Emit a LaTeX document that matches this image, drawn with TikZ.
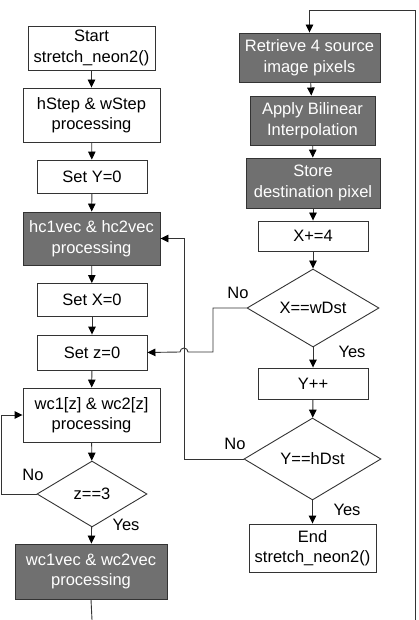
\documentclass[tikz,border=0pt]{standalone}
\usepackage{fontspec}
\setmainfont{Liberation Sans}
\usetikzlibrary{shapes.geometric,arrows.meta}
\begin{document}
\begin{tikzpicture}[x=1pt,y=-1pt,
  every node/.style={font=\fontsize{16.5}{20.5}\selectfont, align=center, inner sep=0pt},
  box/.style={draw=black!80, line width=0.9pt, fill=white, rectangle, minimum width=#1},
  gbox/.style={draw=black!80, line width=0.9pt, fill=black!56, text=white, rectangle, minimum width=#1},
  dec/.style={draw=black!80, line width=0.9pt, diamond, aspect=1.7},
  line/.style={draw=black!80, line width=0.9pt},
  arr/.style={line, -{Triangle[length=8pt,width=7.5pt,fill=black,color=black]}},
  lbl/.style={font=\fontsize{16.5}{20}\selectfont}]
\useasboundingbox (0,0) rectangle (418,620);
% left column
\node[box=127, minimum height=44] (start) at (91.5,48) {Start\\stretch\_neon2()};
\node[box=137, minimum height=54] (hstep) at (91.5,115) {hStep \& wStep\\processing};
\node[box=110, minimum height=33] (sety) at (92,176.5) {Set Y=0};
\node[gbox=137, minimum height=53] (hc) at (91.5,238.5) {hc1vec \& hc2vec\\processing};
\node[box=110, minimum height=33] (setx) at (92,300) {Set X=0};
\node[box=110, minimum height=35] (setz) at (92,352.5) {Set z=0};
\node[box=137, minimum height=54] (wc) at (91.5,415) {wc1[z] \& wc2[z]\\processing};
\node[dec, minimum width=110, minimum height=66] (dz) at (92,494) {z==3};
\node[gbox=152, minimum height=55] (wcv) at (91,571.5) {wc1vec \& wc2vec\\processing};
% right column
\node[gbox=141, minimum height=49] (ret) at (309.5,57.5) {Retrieve 4 source\\image pixels};
\node[gbox=125, minimum height=49] (app) at (312.5,120.5) {Apply Bilinear\\Interpolation};
\node[gbox=134, minimum height=50] (sto) at (313,183) {Store\\destination pixel};
\node[box=110, minimum height=30] (x4) at (313,236) {X+=4};
\node[dec, minimum width=132, minimum height=78] (dx) at (313,308) {X==wDst};
\node[box=110, minimum height=31] (yinc) at (313,383.5) {Y++};
\node[dec, minimum width=137, minimum height=82] (dy) at (312.5,459) {Y==hDst};
\node[box=127, minimum height=48] (end) at (312.5,548) {End\\stretch\_neon2()};
% coordinates
\coordinate (botL) at (92,620);
\coordinate (botR) at (415,620);
\coordinate (topR) at (415,10);
% straight arrows
\draw[arr] (start) -- (hstep);
\draw[arr] (hstep) -- (sety);
\draw[arr] (sety) -- (hc);
\draw[arr] (hc) -- (setx);
\draw[arr] (setx) -- (setz);
\draw[arr] (setz) -- (wc);
\draw[arr] (wc) -- (dz);
\draw[arr] (dz) -- (wcv);
\draw[line] (wcv.south) -- (botL);
\draw[arr] (ret) -- (app);
\draw[arr] (app) -- (sto);
\draw[arr] (sto) -- (x4);
\draw[arr] (x4) -- (dx);
\draw[arr] (dx) -- (yinc);
\draw[arr] (yinc) -- (dy);
\draw[arr] (dy) -- (end);
% loops
\draw[arr] (dz.west) -- (1,494) |- (wc.west);
\draw[arr] (botR) -- (topR) -| (ret.north);
\draw[arr] (dy.west) -- (184,459) |- (hc.east);
\draw[arr] (dx.west) -- (213,308) -- (213,352) -- (188,352)
  arc[start angle=0, end angle=180, radius=4pt] -- (setz.east);
% labels
\node[lbl] (n1) at (33,475) {No};
\node[lbl] (y1) at (126,525) {Yes};
\node[lbl] (n2) at (238,293) {No};
\node[lbl] (y2) at (352,352) {Yes};
\node[lbl] (n3) at (235,444) {No};
\node[lbl] (y3) at (347,510) {Yes};
\end{tikzpicture}
\end{document}
